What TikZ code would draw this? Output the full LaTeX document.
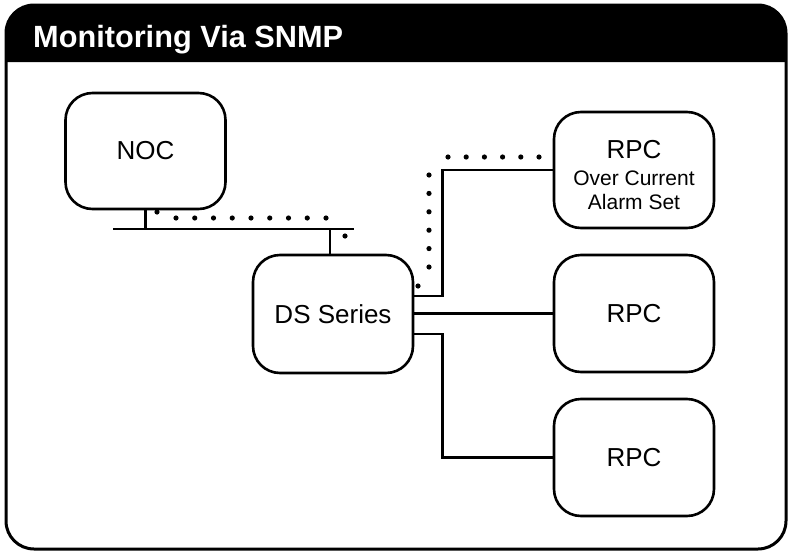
\documentclass[tikz,border=0pt]{standalone}
\usepackage{fontspec}
\setmainfont{Liberation Sans}
\usetikzlibrary{calc}

\tikzset{
  unitbox/.style={draw=black, line width=2.6pt, rounded corners=27pt,
    minimum width=160pt, minimum height=117pt, inner sep=0pt, align=center,
    font=\fontsize{26}{30}\selectfont},
  wire/.style={draw=black, line width=2.6pt},
  trapdot/.style={fill=black},
}

\begin{document}
\begin{tikzpicture}[x=1pt, y=-1pt]
  \useasboundingbox (0,0) rectangle (788,552);

  % outer frame with black title bar
  \fill[black] (6,62) -- (6,35) arc[start angle=180, end angle=270, radius=30] -- (756,5)
    arc[start angle=270, end angle=360, radius=30] -- (786,62) -- cycle;
  \draw[line width=3pt, rounded corners=28pt] (6,5) rectangle (786,549);
  \node[anchor=base west, inner sep=0pt, text=white,
        font=\bfseries\fontsize{30.7}{34}\selectfont] (title) at (33,47) {Monitoring Via SNMP};

  % equipment
  \node[unitbox, minimum height=116pt] (noc) at (145.5,151) {NOC};
  \node[unitbox, minimum height=118pt] (ds) at (333,314) {DS Series};
  \node[unitbox, minimum height=116pt] (rpc1) at (634,170) {};
  \node[align=center, inner sep=0pt, font=\fontsize{21}{24}\selectfont] (rpc1text) at (634,175)
    {{\fontsize{26}{30}\selectfont RPC}\\[3pt]Over Current\\[0pt]Alarm Set};
  \node[unitbox] (rpc2) at (634,313.5) {RPC};
  \node[unitbox] (rpc3) at (634,457.5) {RPC};

  % network bus between NOC and DS Series
  \coordinate (busL) at (113,229);
  \coordinate (busR) at (354,229);
  \draw[wire] (busL) -- (busR);
  \draw[wire] (noc.south) -- (noc.south |- busL);
  \draw[wire] ([xshift=-3pt]ds.north) -- ([xshift=-3pt]ds.north |- busL);

  % links from DS Series to the RPC units
  \draw[wire] ([yshift=18pt]ds.east) -- ++(28,0) |- (rpc1.west);
  \draw[wire] (ds.east |- rpc2.west) -- (rpc2.west);
  \draw[wire] ([yshift=-20pt]ds.east) -- ++(28,0) |- (rpc3.west);

  % SNMP trap path (dots)
  \fill[trapdot] (157,212) circle[radius=2.6];
  \foreach \i in {0,...,8} \fill[trapdot] (176+18.75*\i,218) circle[radius=2.6];
  \fill[trapdot] (345,236) circle[radius=2.6];
  \fill[trapdot] (418,286) circle[radius=2.6];
  \foreach \i in {0,...,5} \fill[trapdot] (429,175+18.4*\i) circle[radius=2.6];
  \foreach \i in {0,...,5} \fill[trapdot] (448+18.2*\i,157) circle[radius=2.6];
\end{tikzpicture}
\end{document}
